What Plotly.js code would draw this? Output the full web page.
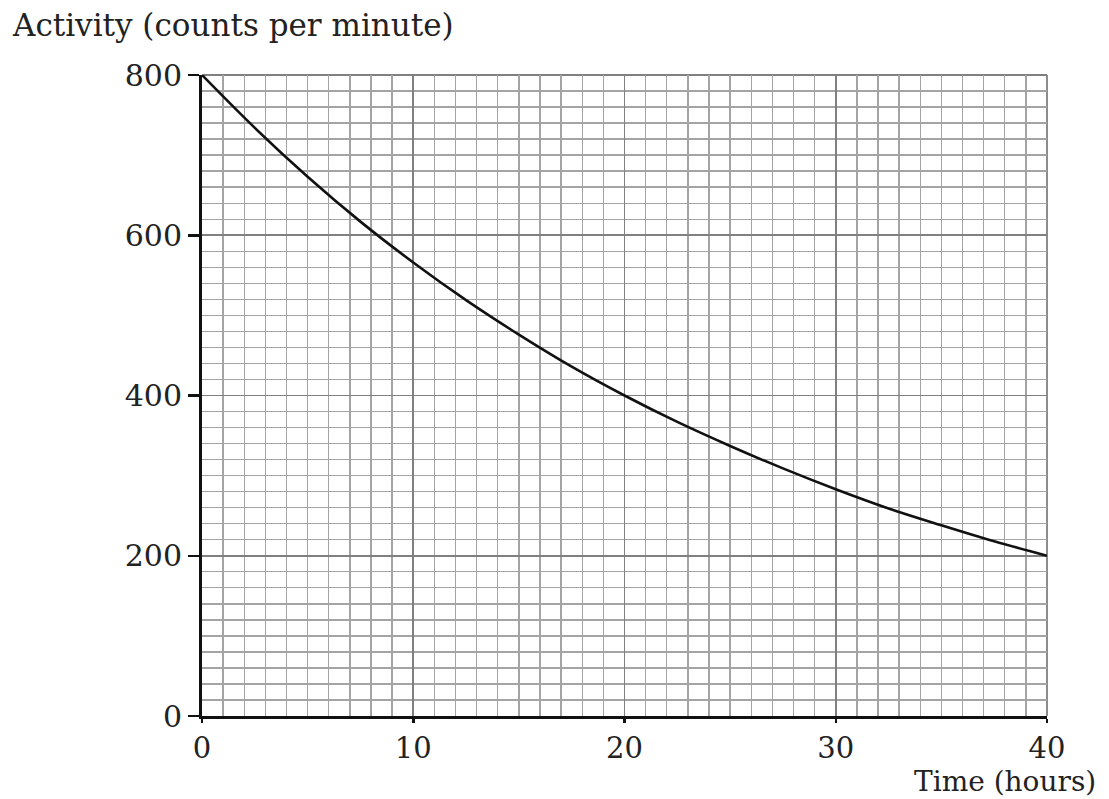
<!DOCTYPE html>
<html>
<head>
<meta charset="utf-8">
<script src="https://cdn.plot.ly/plotly-3.0.1.min.js"></script>
<style>html,body{margin:0;padding:0;background:#fff;}#chart{width:1109px;height:799px;}</style>
</head>
<body>
<div id="chart"></div>
<script>
const timeHours = [0, 2.5, 5, 7.5, 10, 12.5, 15, 17.5, 20, 22.5, 25, 27.5, 30, 32.5, 35, 37.5, 40];
const activity = [800, 734, 673, 617, 566, 519, 476, 436, 400, 367, 337, 309, 283, 259, 238, 218, 200];
const xTickVals = [0, 10, 20, 30, 40];
const yTickVals = [0, 200, 400, 600, 800];
const yTitleText = 'Activity (counts per minute)';
const xTitleText = 'Time (hours)';

const serif = 'DejaVu Serif, Liberation Serif, serif';
const trace = {
  x: timeHours, y: activity, type: 'scatter', mode: 'lines',
  line: {color: '#111', width: 2.6, shape: 'spline', smoothing: 1},
  hoverinfo: 'skip', showlegend: false
};
const layout = {
  width: 1109, height: 799,
  margin: {l: 202, r: 62, t: 75, b: 83},
  paper_bgcolor: '#fff', plot_bgcolor: '#fff',
  font: {family: serif, color: '#222', size: 30},
  xaxis: {
    range: [0, 40], tickvals: xTickVals, ticktext: xTickVals.map(String),
    showline: true, linecolor: '#111', linewidth: 3,
    ticks: 'outside', ticklen: 4, tickwidth: 2.5, tickcolor: '#111',
    tickfont: {family: serif, size: 29, color: '#222'},
    showgrid: true, gridcolor: '#808080', gridwidth: 1.8,
    minor: {dtick: 1, showgrid: true, gridcolor: '#a4a4a4', gridwidth: 1.4},
    zeroline: false, fixedrange: true
  },
  yaxis: {
    range: [0, 800], tickvals: yTickVals, ticktext: yTickVals.map(String),
    showline: true, linecolor: '#111', linewidth: 3,
    ticks: 'outside', ticklen: 11, tickwidth: 2.5, tickcolor: '#111',
    showgrid: true, gridcolor: '#808080', gridwidth: 1.8,
    minor: {dtick: 20, showgrid: true, gridcolor: '#a4a4a4', gridwidth: 1.4},
    zeroline: false, fixedrange: true
  },
  shapes: [
    {type: 'line', xref: 'paper', yref: 'paper', x0: 0, x1: 1, y0: 1, y1: 1,
     line: {color: '#808080', width: 1.8}, layer: 'below'},
    {type: 'line', xref: 'paper', yref: 'paper', x0: 1, x1: 1, y0: 0, y1: 1,
     line: {color: '#808080', width: 1.8}, layer: 'below'}
  ],
  annotations: [
    {text: yTitleText, xref: 'paper', yref: 'paper', x: -0.227, y: 1.0, yshift: 50,
     xanchor: 'left', yanchor: 'middle', showarrow: false, font: {family: serif, size: 31, color: '#222'}},
    {text: xTitleText, xref: 'paper', yref: 'paper', x: 1.0, y: 0, xshift: 50, yshift: -65,
     xanchor: 'right', yanchor: 'middle', height: 32, borderpad: 0, showarrow: false,
     font: {family: serif, size: 28, color: '#222'}}
  ]
};
Plotly.newPlot('chart', [trace], layout, {staticPlot: true, displayModeBar: false});
</script>
</body>
</html>
